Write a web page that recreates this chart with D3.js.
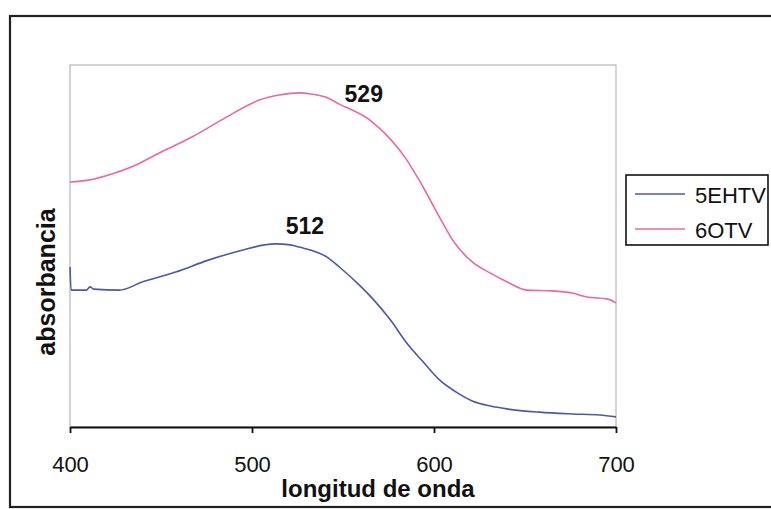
<!DOCTYPE html>
<html>
<head>
<meta charset="utf-8">
<script src="https://cdn.jsdelivr.net/npm/d3@7"></script>
<style>
  html, body { margin: 0; padding: 0; background: #fff; }
  svg { display: block; font-family: "Liberation Sans", Arial, Helvetica, sans-serif; }
</style>
</head>
<body>
<svg id="chart" width="771" height="509"></svg>
<script>
// ---- data ----
const xTicks = [400, 500, 600, 700];
const seriesNames = ["5EHTV", "6OTV"];
const seriesColors = ["#4a58a8", "#e868a4"];

const wl5EHTV = [400, 400.6, 409, 411, 413, 427, 440, 458, 476, 495, 507, 513, 521, 526, 541, 548, 559, 566, 576, 585, 594, 603, 612, 621, 631, 640, 658, 676, 691, 700];
const abs5EHTV = [0.442, 0.378, 0.378, 0.387, 0.381, 0.378, 0.401, 0.428, 0.461, 0.489, 0.503, 0.506, 0.503, 0.497, 0.470, 0.442, 0.392, 0.356, 0.296, 0.232, 0.180, 0.130, 0.097, 0.072, 0.058, 0.050, 0.041, 0.036, 0.033, 0.028];

const wl6OTV = [400, 410, 423, 435, 449, 467, 486, 504, 515, 526, 532, 540, 548, 566, 585, 594, 603, 611, 621, 631, 640, 651, 665, 676, 684, 695, 700];
const abs6OTV = [0.677, 0.682, 0.699, 0.721, 0.757, 0.801, 0.856, 0.903, 0.917, 0.923, 0.920, 0.912, 0.892, 0.843, 0.738, 0.663, 0.580, 0.511, 0.456, 0.425, 0.401, 0.378, 0.376, 0.370, 0.359, 0.354, 0.343];

const peakLabels = ["512", "529"];
const peakWl = [512, 529];
const peakAbs = [0.506, 0.923];

// ---- layout ----
const svg = d3.select("#chart");
const plot = { left: 70, right: 616, top: 65, bottom: 427 };

const x = d3.scaleLinear().domain([400, 700]).range([plot.left, plot.right]);
const y = d3.scaleLinear().domain([0, 1]).range([plot.bottom, plot.top]);

// outer frame
svg.append("rect")
  .attr("x", 10).attr("y", 16)
  .attr("width", 790).attr("height", 491)
  .attr("fill", "none").attr("stroke", "#222").attr("stroke-width", 2.2);

// plot area border
svg.append("rect")
  .attr("x", plot.left).attr("y", plot.top)
  .attr("width", plot.right - plot.left).attr("height", plot.bottom - plot.top)
  .attr("fill", "#fff").attr("stroke", "#a8a8a8").attr("stroke-width", 1);

// lines
const line = d3.line().x(d => x(d[0])).y(d => y(d[1])).curve(d3.curveMonotoneX);
const series = [
  d3.zip(wl5EHTV, abs5EHTV),
  d3.zip(wl6OTV, abs6OTV)
];
series.forEach((s, i) => {
  svg.append("path")
    .datum(s)
    .attr("d", line)
    .attr("fill", "none")
    .attr("stroke", seriesColors[i])
    .attr("stroke-width", 1.6);
});

// x axis
const xAxis = d3.axisBottom(x).tickValues(xTicks).tickFormat(d3.format("d"))
  .tickSize(6).tickSizeOuter(0).tickPadding(23);
const gx = svg.append("g").attr("transform", `translate(0,${plot.bottom})`).call(xAxis);
gx.select(".domain").attr("stroke", "#111").attr("stroke-width", 2.2);
gx.selectAll(".tick line").attr("stroke", "#111").attr("stroke-width", 1.8);
gx.selectAll(".tick text")
  .attr("fill", "#111")
  .style("font-size", "22px")
  .style("font-family", "'Liberation Sans', Arial, sans-serif");

// axis titles
svg.append("text")
  .attr("x", 378).attr("y", 497)
  .attr("text-anchor", "middle")
  .style("font-size", "24px").style("font-weight", "bold").attr("fill", "#111")
  .text("longitud de onda");

svg.append("text")
  .attr("transform", "translate(55,282) rotate(-90)")
  .attr("text-anchor", "middle")
  .style("font-size", "25px").style("font-weight", "bold").attr("fill", "#111")
  .text("absorbancia");

// peak labels
const labelDx = [31, 59];
const labelDy = [-10, 9];
peakLabels.forEach((t, i) => {
  svg.append("text")
    .attr("x", x(peakWl[i]) + labelDx[i])
    .attr("y", y(peakAbs[i]) + labelDy[i])
    .attr("text-anchor", "middle")
    .style("font-size", "23px").style("font-weight", "bold").attr("fill", "#111")
    .text(t);
});

// legend
const lg = svg.append("g").attr("transform", "translate(626,175)");
lg.append("rect").attr("width", 142).attr("height", 70)
  .attr("fill", "#fff").attr("stroke", "#111").attr("stroke-width", 1.6);
seriesNames.forEach((n, i) => {
  const yy = 19 + i * 35;
  lg.append("line").attr("x1", 9).attr("x2", 59).attr("y1", yy).attr("y2", yy)
    .attr("stroke", seriesColors[i]).attr("stroke-width", 1.6);
  lg.append("text").attr("x", 69).attr("y", yy + 9)
    .style("font-size", "22px").attr("fill", "#111").text(n);
});
</script>
</body>
</html>
